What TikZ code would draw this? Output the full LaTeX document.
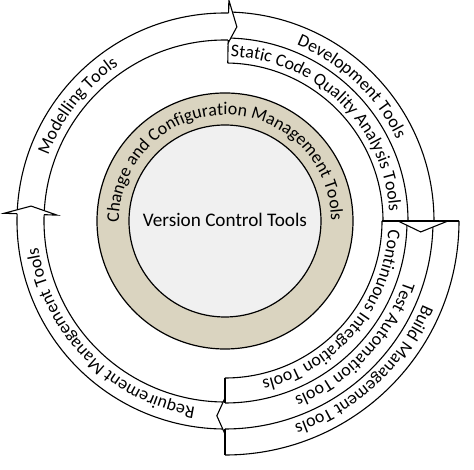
\documentclass[tikz,border=0pt]{standalone}
\usepackage{fontspec}
\setmainfont{Carlito}
\usetikzlibrary{decorations.text}
\definecolor{ringbeige}{RGB}{218,212,192}
\definecolor{coregray}{RGB}{240,240,240}
\newcommand{\bfnt}{\fontsize{17.9pt}{20pt}\selectfont}
\begin{document}
\begin{tikzpicture}[
  bandline/.style={draw=black, line width=1.1pt},
  headfill/.style={fill=white},
  headline/.style={draw=black, line width=1.1pt, line join=miter},
  arctext/.style={decorate, decoration={text along path, text align=center, text={|\bfnt|#1}}}]
\useasboundingbox (-225pt,-249pt) rectangle (249pt,221pt);
% core circles
\path[fill=ringbeige, draw=black, line width=1.2pt] (0,0) circle[radius=128pt];
\path[fill=coregray, draw=black, line width=1.2pt] (0,0) circle[radius=96pt];
\node[font=\fontsize{19.2pt}{22pt}\selectfont] (vct) at (0,1pt) {Version Control Tools};
% band arcs
% Modelling
\draw[bandline] (178:208pt) arc[start angle=178, end angle=89, radius=208pt];
\draw[bandline] (178:181pt) arc[start angle=178, end angle=89, radius=181pt];
% Development
\draw[bandline] (89:209pt) arc[start angle=89, end angle=0, radius=209pt];
\draw[bandline] (89:183pt) arc[start angle=89, end angle=0, radius=183pt];
% Static
\draw[bandline] (89:158pt) arc[start angle=89, end angle=0, radius=158pt];
% CI
\draw[bandline] (0:182pt) arc[start angle=0, end angle=-90, radius=182pt];
\draw[bandline] (0:157pt) arc[start angle=0, end angle=-90, radius=157pt];
% Test
\draw[bandline] (0:208pt) arc[start angle=0, end angle=-90, radius=208pt];
% Build
\draw[bandline] (0:234pt) arc[start angle=0, end angle=-90, radius=234pt];
% Requirement
\draw[bandline] (270:208pt) arc[start angle=270, end angle=178, radius=208pt];
\draw[bandline] (270:181pt) arc[start angle=270, end angle=178, radius=181pt];
% arrow heads
% Modelling -> Development (top)
\fill[headfill] (89:208pt) -- (89:221pt) -- (86.5:194.5pt) -- (89:178pt) -- (89:181pt) -- cycle;
\draw[headline] (89:208pt) -- (89:221pt) -- (86.5:194.5pt) -- (89:178pt) -- (89:181pt);
% Development -> lower bands (right)
\fill[headfill] (0:209pt) -- (0:223pt) -- (-3.2:196pt) -- (0:173pt) -- (0:183pt) -- cycle;
\draw[headline] (0:209pt) -- (0:223pt) -- (-3.2:196pt) -- (0:173pt) -- (0:183pt);
% Test -> Requirement (bottom)
\fill[headfill] (-90:208pt) -- (-90:213pt) -- (-92.4:195pt) -- (-90:177pt) -- (-90:182pt) -- cycle;
\draw[headline] (-90:208pt) -- (-90:213pt) -- (-92.4:195pt) -- (-90:177pt) -- (-90:182pt);
% Requirement -> Modelling (left)
\fill[headfill] (178:208pt) -- (178:221pt) -- (175.6:194.5pt) -- (178:168pt) -- (178:181pt) -- cycle;
\draw[headline] (178:208pt) -- (178:221pt) -- (175.6:194.5pt) -- (178:168pt) -- (178:181pt);
% flat band ends
\draw[bandline] (89:158pt) -- (89:178pt);
\draw[bandline] (0:157pt) -- (0:234pt);
\draw[bandline] (-90:157pt) -- (-90:182pt);
\draw[bandline] (-90:208pt) -- (-90:234pt);
% texts along arcs
\path[arctext={Modelling Tools}] (192:188.5pt) arc[start angle=192, end angle=92, radius=188.5pt];
\path[arctext={Development Tools}] (96.6:190pt) arc[start angle=96.6, end angle=-3.4, radius=190pt];
\path[arctext={Static Code Quality Analysis Tools}] (105.6:164.5pt) arc[start angle=105.6, end angle=-14.4, radius=164.5pt];
\path[arctext={Change and Configuration Management Tools}] (190.5:106pt) arc[start angle=190.5, end angle=-9.5, radius=106pt];
\path[arctext={Continuous Integration Tools}] (10:163.5pt) arc[start angle=10, end angle=-90, radius=163.5pt];
\path[arctext={Test Automation Tools}] (6.5:189pt) arc[start angle=6.5, end angle=-93.5, radius=189pt];
\path[arctext={Build Management Tools}] (3:215pt) arc[start angle=3, end angle=-97, radius=215pt];
\path[arctext={Requirement Management Tools}] (274.5:188.5pt) arc[start angle=274.5, end angle=174.5, radius=188.5pt];
\end{tikzpicture}
\end{document}
